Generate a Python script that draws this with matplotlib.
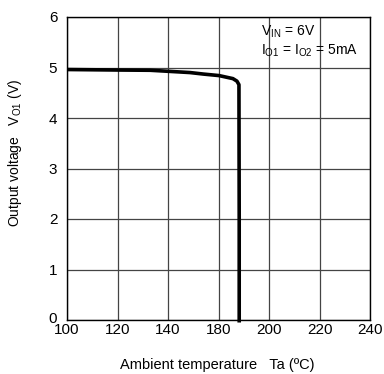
import numpy as np
import matplotlib
matplotlib.use("Agg")
import matplotlib.pyplot as plt
from matplotlib.transforms import ScaledTranslation

plt.rcParams['font.family'] = ['Liberation Sans', 'DejaVu Sans']
plt.rcParams['mathtext.fontset'] = 'custom'
plt.rcParams['mathtext.rm'] = 'Liberation Sans'
plt.rcParams['mathtext.it'] = 'Liberation Sans'

# gridline positions and the labels printed under them
tick_pos = [100, 120, 140, 160, 180, 200, 220]
tick_labels = ['100', '120', '140', '180', '200', '220', '240']
y_ticks = [0, 1, 2, 3, 4, 5, 6]

# output voltage vs ambient temperature (axis units)
temp = [100, 120, 133, 140, 148.7, 154, 160.2, 165.7, 167.3, 168.1, 168.2, 168.2]
vout = [4.96, 4.95, 4.945, 4.925, 4.90, 4.87, 4.84, 4.78, 4.73, 4.66, 2.0, -0.05]

fig = plt.figure(figsize=(3.84, 3.74), dpi=100)
ax = fig.add_axes([67/384, 54/374, 303/384, 303/374])

ax.plot(temp, vout, color='black', lw=2.6, solid_capstyle='butt',
        solid_joinstyle='round', clip_on=False, zorder=3)

ax.set_xlim(100, 220)
ax.set_ylim(0, 6)
ax.set_xticks(tick_pos)
ax.set_xticklabels(tick_labels)
ax.set_yticks(y_ticks)
ax.tick_params(length=0, labelsize=11)
ax.tick_params(axis='y', pad=7)
ax.tick_params(axis='x', pad=2)
ax.grid(True, color='#444444', lw=0.9)
for s in ax.spines.values():
    s.set_linewidth(1.0)
    s.set_color('black')

# lift the bottom "0" a little so it clears the "100"
zero = ax.get_yticklabels()[0]
zero.set_transform(zero.get_transform() + ScaledTranslation(0, 2/72, fig.dpi_scale_trans))

ax.text(261/384, 1 - 32/374, r'V$_{\mathrm{IN}}$ = 6V', transform=fig.transFigure,
        fontsize=10, va='center', ha='left')
ax.text(261/384, 1 - 51/374, r'I$_{\mathrm{O1}}$ = I$_{\mathrm{O2}}$ = 5mA',
        transform=fig.transFigure, fontsize=10, va='center', ha='left')

fig.text(217.5/384, 9/374, 'Ambient temperature   Ta (ºC)', fontsize=10.5,
         ha='center', va='center')
fig.text(15/384, 1 - 153/374, r'Output voltage   V$_{\mathrm{O1}}$ (V)', fontsize=10,
         rotation=90, ha='center', va='center')

fig.savefig('out.png', dpi=100)
